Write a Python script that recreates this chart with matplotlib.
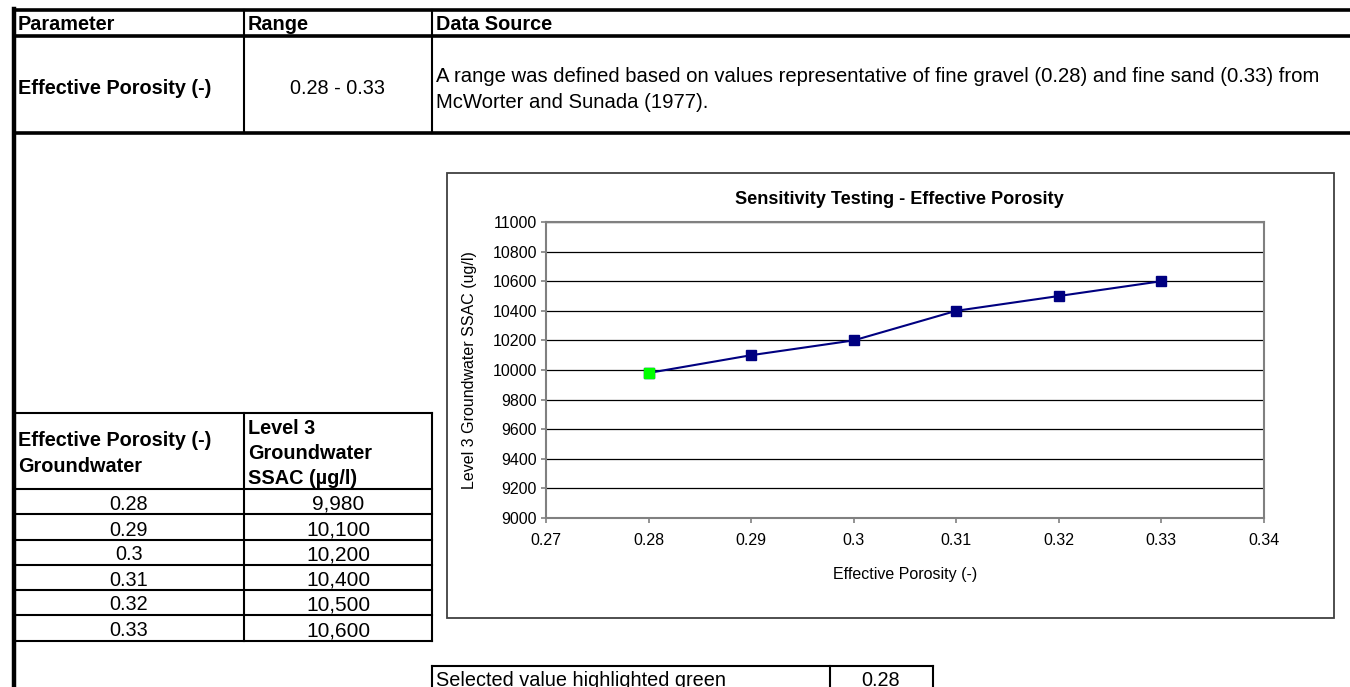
import matplotlib.pyplot as plt
from matplotlib.patches import Rectangle

plt.rcParams["font.family"] = ["Liberation Sans", "DejaVu Sans"]

# data
porosity = [0.28, 0.29, 0.30, 0.31, 0.32, 0.33]
ssac = [9980, 10100, 10200, 10400, 10500, 10600]
selected = 0.28

param_name = "Effective Porosity (-)"
param_range = "0.28 - 0.33"
source_lines = [
    "A range was defined based on values representative of fine gravel (0.28) and fine sand (0.33) from",
    "McWorter and Sunada (1977).",
]
header_top = ["Parameter", "Range", "Data Source"]
header_left = ["Effective Porosity (-)", "Groundwater"]
header_right = ["Level 3", "Groundwater", "SSAC (µg/l)"]

chart_title = "Sensitivity Testing - Effective Porosity"
x_label = "Effective Porosity (-)"
y_label = "Level 3 Groundwater SSAC (ug/l)"
x_ticks = [0.27, 0.28, 0.29, 0.30, 0.31, 0.32, 0.33, 0.34]
y_ticks = list(range(9000, 11001, 200))

W, H = 1350, 687
fig = plt.figure(figsize=(W / 100, H / 100), dpi=100)

# sheet layer in pixel coordinates
bg = fig.add_axes([0, 0, 1, 1])
bg.set_xlim(0, W)
bg.set_ylim(H, 0)
bg.axis("off")

FS = 14.3
thick, thin = 2.6, 1.5

# top table
bg.plot([14, W], [10, 10], color="black", lw=thick)
bg.plot([14, W], [36, 36], color="black", lw=thick)
bg.plot([14, W], [133, 133], color="black", lw=thick)
bg.plot([14, 14], [9, H], color="black", lw=3.2)
for x in (244, 432):
    bg.plot([x, x], [10, 133], color="black", lw=thin)

for x, txt in zip([18, 248, 436], header_top):
    bg.text(x, 24, txt, fontsize=FS, fontweight="bold", va="center", ha="left")
bg.text(18, 88, param_name, fontsize=FS, fontweight="bold", va="center")
bg.text(338, 89, param_range, fontsize=FS, va="center", ha="center")
for i, line in enumerate(source_lines):
    bg.text(436, 76 + i * 26, line, fontsize=14.6, va="center")

# lower table
row_lines = [489, 514, 540, 565, 590, 615, 641]
bg.plot([14, 432], [413, 413], color="black", lw=thin)
for y in row_lines:
    bg.plot([14, 432], [y, y], color="black", lw=thin)
for x in (244, 432):
    bg.plot([x, x], [413, row_lines[-1]], color="black", lw=thin)

for i, txt in enumerate(header_left):
    bg.text(18, 441 + i * 26, txt, fontsize=FS, fontweight="bold", va="center")
for i, txt in enumerate(header_right):
    bg.text(248, 428 + i * 25.5, txt, fontsize=FS, fontweight="bold", va="center")

for i, (p, v) in enumerate(zip(porosity, ssac)):
    y = row_lines[i + 1] - 10
    bg.text(129, y, f"{p:g}", fontsize=FS, ha="center", va="center")
    bg.text(338, y, f"{v:,}", fontsize=15, ha="center", va="center")

# selected value box
bg.plot([432, 933], [666, 666], color="black", lw=thin)
for x in (432, 830, 933):
    bg.plot([x, x], [666, H], color="black", lw=thin)
bg.text(436, 681, "Selected value highlighted green", fontsize=14.3, va="center")
bg.text(881, 681, f"{selected:g}", fontsize=14.3, va="center", ha="center")

# chart frame
bg.add_patch(Rectangle((447, 173), 887, 445, fill=False, edgecolor="#404040", lw=1.3))
bg.text(899, 199, chart_title, fontsize=13.1, fontweight="bold", ha="center", va="center")

# chart
ax = fig.add_axes([546 / W, 1 - 518 / H, (1264 - 546) / W, (518 - 222) / H])
ax.set_xlim(0.27, 0.34)
ax.set_ylim(9000, 11000)
ax.set_xticks(x_ticks)
ax.set_xticklabels([f"{round(t, 2):g}" for t in x_ticks])
ax.set_yticks(y_ticks)
ax.yaxis.grid(True, color="black", lw=0.9)
ax.set_axisbelow(True)
for s in ax.spines.values():
    s.set_color("#808080")
    s.set_linewidth(1.5)
ax.tick_params(axis="both", direction="out", length=3.5, width=1.2, color="#808080",
               labelsize=11.5)
ax.tick_params(axis="y", pad=3)
ax.tick_params(axis="x", pad=7)

ax.plot(porosity, ssac, color="#000080", lw=1.5, marker="s", ms=7.5,
        markerfacecolor="#000080", markeredgecolor="#000080", zorder=3)
i_sel = porosity.index(selected)
ax.plot([porosity[i_sel]], [ssac[i_sel]], ls="none", marker="s", ms=7.5,
        color="#00FF00", zorder=4)

ax.set_xlabel(x_label, fontsize=11.5, labelpad=14)
ax.set_ylabel(y_label, fontsize=11.5, labelpad=11)

fig.savefig("out.png", dpi=100)
